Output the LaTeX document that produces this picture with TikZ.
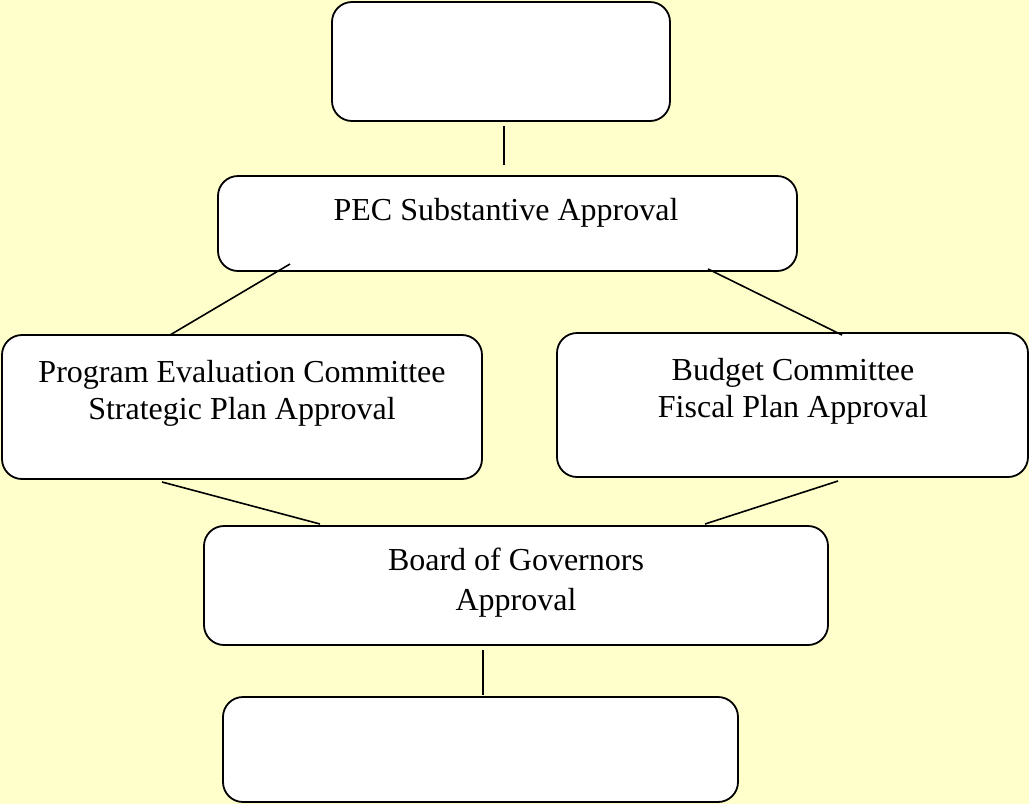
\documentclass[tikz,border=0pt]{standalone}
\usepackage{fontspec}
\setmainfont{Liberation Serif}
\definecolor{paper}{HTML}{FFFFCC}
\begin{document}
\begin{tikzpicture}[x=1pt,y=-1pt,
  box/.style={draw=black, fill=white, line width=1.8pt, rounded corners=20pt, inner sep=0pt},
  caption/.style={font=\fontsize{32}{37}\selectfont, align=center, inner sep=0pt},
  link/.style={draw=black, line width=1.6pt}]
  % page background
  \fill[paper] (0,0) rectangle (1029,804);
  \useasboundingbox (0,0) rectangle (1029,804);

  % boxes
  \node[box, minimum width=338pt, minimum height=119pt] (top)    at (501,61.5) {};
  \node[box, minimum width=579pt, minimum height=95pt]  (pec)    at (507.5,223.5) {};
  \node[box, minimum width=480pt, minimum height=144pt] (prog)   at (242,407) {};
  \node[box, minimum width=471pt, minimum height=144pt] (budget) at (792.5,405) {};
  \node[box, minimum width=624pt, minimum height=119pt] (board)  at (516,585.5) {};
  \node[box, minimum width=515pt, minimum height=105pt] (bottom) at (480.5,749.5) {};

  % captions
  \node[caption] (pecT)    at (506,213) {PEC Substantive Approval};
  \node[caption] (progT)   at (242,393) {Program Evaluation Committee\\Strategic Plan Approval};
  \node[caption] (budgetT) at (793,391) {Budget Committee\\Fiscal Plan Approval};
  \node[caption, font=\fontsize{32}{40}\selectfont] (boardT) at (516,583) {Board of Governors\\Approval};

  % connector ends
  \coordinate (topS)    at (504,126);
  \coordinate (pecN)    at (504,165);
  \coordinate (pecSW)   at (290,264);
  \coordinate (progN)   at (170,335);
  \coordinate (pecSE)   at (708,269);
  \coordinate (budgetN) at (842,335);
  \coordinate (progS)   at (162,482);
  \coordinate (boardNW) at (320,524);
  \coordinate (budgetS) at (838,481);
  \coordinate (boardNE) at (705,524);
  \coordinate (boardS)  at (483,650);
  \coordinate (bottomN) at (483,695);

  % connectors
  \draw[link] (topS) -- (pecN);
  \draw[link] (pecSW) -- (progN);
  \draw[link] (pecSE) -- (budgetN);
  \draw[link] (progS) -- (boardNW);
  \draw[link] (budgetS) -- (boardNE);
  \draw[link] (boardS) -- (bottomN);
\end{tikzpicture}
\end{document}
